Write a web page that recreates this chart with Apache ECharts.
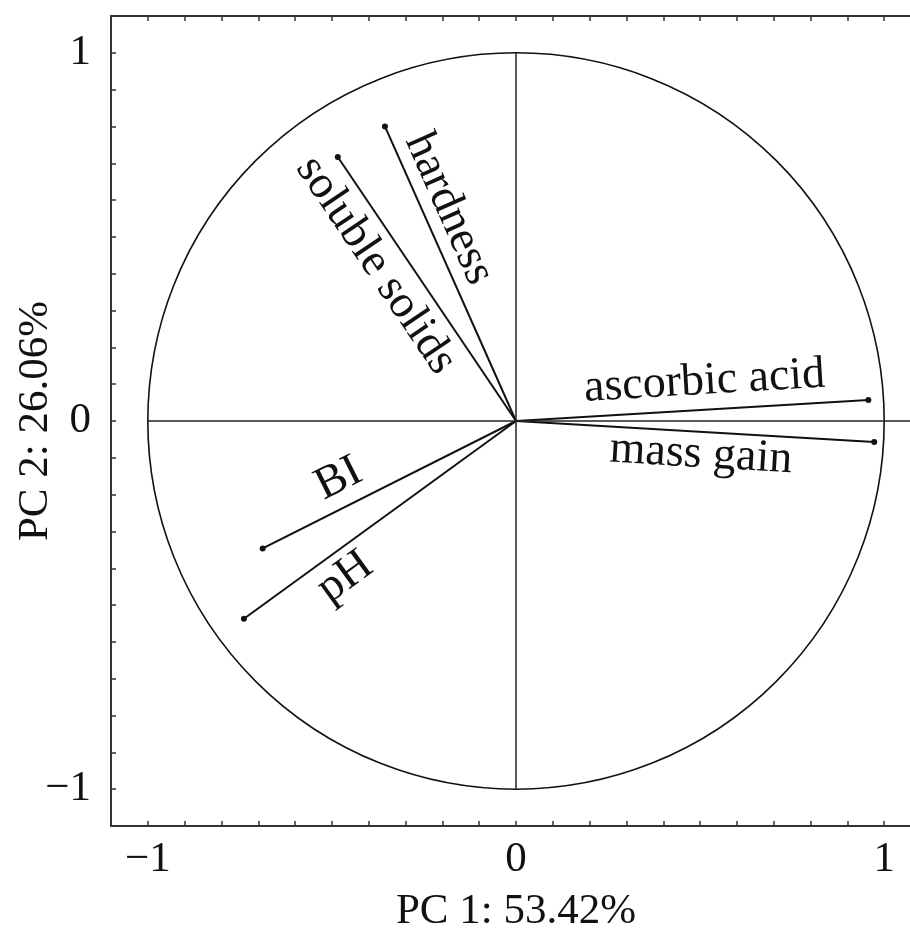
<!DOCTYPE html>
<html>
<head>
<meta charset="utf-8">
<script src="https://cdn.jsdelivr.net/npm/echarts@6/dist/echarts.min.js"></script>
<style>html,body{margin:0;padding:0;background:#fff}#c{width:910px;height:928px}</style>
</head>
<body>
<div id="c"></div>
<script>
// ---- data ----
const variables = ['ascorbic acid', 'mass gain', 'hardness', 'soluble solids', 'BI', 'pH'];
const pc1Loadings = [0.957, 0.973, -0.356, -0.484, -0.688, -0.739];
const pc2Loadings = [0.057, -0.057, 0.800, 0.717, -0.346, -0.537];
const axisTicks = [-1, 0, 1];
const xTitle = 'PC 1: 53.42%';
const yTitle = 'PC 2: 26.06%';
const hLine = [[-1, 0], [1.1, 0]];
const vLine = [[0, 1], [0, -1]];

// label placement (fraction along vector, perpendicular pixel offset)
const labelPlace = {
  'ascorbic acid': [0.54, 28],
  'mass gain': [0.52, -23],
  'hardness': [0.686, 25],
  'soluble solids': [0.651, -29],
  'BI': [0.65, 28],
  'pH': [0.684, -26]
};

const FONT = '"Liberation Serif", "DejaVu Serif", serif';
const chart = echarts.init(document.getElementById('c'));

function tickFmt(v) {
  for (const t of axisTicks) {
    if (Math.abs(v - t) < 1e-6) return t < 0 ? '\u2212' + (-t) : String(t);
  }
  return '';
}

const axisCommon = {
  type: 'value', min: -1.1, max: 1.1, interval: 0.1,
  splitLine: { show: false },
  axisLine: { show: true, onZero: false, lineStyle: { color: '#333', width: 2 } },
  axisTick: { show: true, inside: true, length: 5, lineStyle: { color: '#333', width: 1.5 } }
};

const vecData = variables.map((n, i) => [pc1Loadings[i], pc2Loadings[i], n]);

chart.setOption({
  animation: false,
  grid: { left: 111, top: 16, width: 810, height: 810, containLabel: false, outerBoundsMode: 'none' },
  xAxis: [
    Object.assign({}, axisCommon, {
      position: 'bottom',
      name: xTitle, nameLocation: 'middle', nameGap: 64, nameMoveOverlap: false,
      nameTextStyle: { fontFamily: FONT, fontSize: 43, color: '#111' },
      axisLabel: { formatter: tickFmt, margin: 12, fontFamily: FONT, fontSize: 43, color: '#111' }
    }),
    Object.assign({}, axisCommon, { position: 'top', axisLabel: { show: false } })
  ],
  yAxis: [
    Object.assign({}, axisCommon, {
      position: 'left',
      name: yTitle, nameLocation: 'middle', nameGap: 54, nameMoveOverlap: false,
      nameTextStyle: { fontFamily: FONT, fontSize: 43, color: '#111' },
      axisLabel: { formatter: tickFmt, margin: 20, fontFamily: FONT, fontSize: 43, color: '#111' }
    }),
    Object.assign({}, axisCommon, { position: 'right', axisLabel: { show: false } })
  ],
  series: [
    {
      type: 'custom', coordinateSystem: 'cartesian2d', silent: true,
      data: [[0, 0]],
      renderItem: function (params, api) {
        const c = api.coord([0, 0]);
        const r = api.coord([1, 0])[0] - c[0];
        return { type: 'circle', shape: { cx: c[0], cy: c[1], r: r },
          style: { fill: 'none', stroke: '#111', lineWidth: 1.6 } };
      }
    },
    {
      type: 'line', data: hLine, symbol: 'none', silent: true,
      lineStyle: { color: '#222', width: 1.5 }
    },
    {
      type: 'line', data: vLine, symbol: 'none', silent: true,
      lineStyle: { color: '#222', width: 1.5 }
    },
    {
      type: 'custom', coordinateSystem: 'cartesian2d', silent: true,
      data: vecData,
      renderItem: function (params, api) {
        const o = api.coord([0, 0]);
        const p = api.coord([api.value(0), api.value(1)]);
        const name = variables[params.dataIndex];
        let th = Math.atan2(-(p[1] - o[1]), p[0] - o[0]);
        if (th > Math.PI / 2) th -= Math.PI;
        if (th < -Math.PI / 2) th += Math.PI;
        const up = [-Math.sin(th), -Math.cos(th)];
        const lp = labelPlace[name];
        const bx = o[0] + lp[0] * (p[0] - o[0]) + lp[1] * up[0];
        const by = o[1] + lp[0] * (p[1] - o[1]) + lp[1] * up[1];
        return {
          type: 'group',
          children: [
            { type: 'line', shape: { x1: o[0], y1: o[1], x2: p[0], y2: p[1] },
              style: { stroke: '#111', lineWidth: 2 } },
            { type: 'circle', shape: { cx: p[0], cy: p[1], r: 3 }, style: { fill: '#111' } },
            { type: 'text', x: bx, y: by, rotation: th,
              style: { text: name, fill: '#111', font: '46px ' + FONT,
                align: 'center', verticalAlign: 'middle' } }
          ]
        };
      }
    }
  ]
});
</script>
</body>
</html>
